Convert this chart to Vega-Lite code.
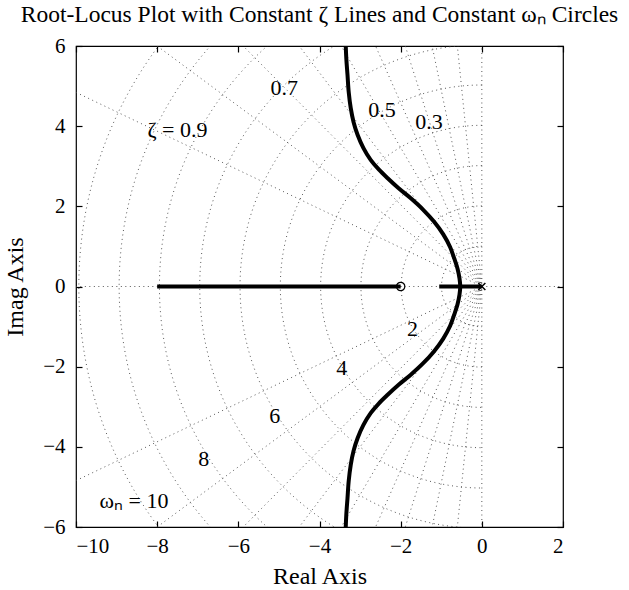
{
  "$schema": "https://vega.github.io/schema/vega-lite/v6.json",
  "width": 487,
  "height": 481,
  "autosize": {"type": "none"},
  "padding": {"left": 76, "top": 46, "right": 66, "bottom": 63},
  "background": "white",
  "config": {
    "view": {"stroke": "black", "strokeWidth": 1.2},
    "font": "Liberation Serif",
    "axis": {
      "domain": false,
      "grid": false,
      "tickColor": "black",
      "tickSize": -6,
      "tickWidth": 1.2,
      "labelFont": "Liberation Serif",
      "labelFontSize": 21,
      "labelColor": "black",
      "titleFont": "Liberation Serif",
      "titleFontSize": 24,
      "titleFontWeight": "normal",
      "titleColor": "black"
    }
  },
  "title": {
    "text": "Root-Locus Plot with Constant ζ Lines and Constant ωₙ Circles",
    "font": "Liberation Serif",
    "fontSize": 23.5,
    "fontWeight": "normal",
    "color": "black",
    "offset": 9
  },
  "datasets": {
    "circles": [
      {"wn": 1}, {"wn": 2}, {"wn": 3}, {"wn": 4}, {"wn": 5},
      {"wn": 6}, {"wn": 7}, {"wn": 8}, {"wn": 9}, {"wn": 10}
    ],
    "rays": [
      {"zeta": 0, "re": 0, "im": 12},
      {"zeta": 0.1, "re": -1.2, "im": 11.94},
      {"zeta": 0.2, "re": -2.4, "im": 11.76},
      {"zeta": 0.3, "re": -3.6, "im": 11.45},
      {"zeta": 0.4, "re": -4.8, "im": 11.0},
      {"zeta": 0.5, "re": -6.0, "im": 10.39},
      {"zeta": 0.6, "re": -7.2, "im": 9.6},
      {"zeta": 0.7, "re": -8.4, "im": 8.57},
      {"zeta": 0.8, "re": -9.6, "im": 7.2},
      {"zeta": 0.9, "re": -10.8, "im": 5.23},
      {"zeta": 1, "re": -12, "im": 0},
      {"zeta": 0, "re": 0, "im": -12},
      {"zeta": 0.1, "re": -1.2, "im": -11.94},
      {"zeta": 0.2, "re": -2.4, "im": -11.76},
      {"zeta": 0.3, "re": -3.6, "im": -11.45},
      {"zeta": 0.4, "re": -4.8, "im": -11.0},
      {"zeta": 0.5, "re": -6.0, "im": -10.39},
      {"zeta": 0.6, "re": -7.2, "im": -9.6},
      {"zeta": 0.7, "re": -8.4, "im": -8.57},
      {"zeta": 0.8, "re": -9.6, "im": -7.2},
      {"zeta": 0.9, "re": -10.8, "im": -5.23},
      {"zeta": -1, "re": 12, "im": 0}
    ],
    "locus": [
      {"branch": "up", "k": 0, "re": -0.53, "im": 0},
      {"branch": "up", "k": 1, "re": -0.55, "im": 0.2},
      {"branch": "up", "k": 2, "re": -0.6, "im": 0.45},
      {"branch": "up", "k": 3, "re": -0.68, "im": 0.7},
      {"branch": "up", "k": 4, "re": -0.78, "im": 0.98},
      {"branch": "up", "k": 5, "re": -0.95, "im": 1.3},
      {"branch": "up", "k": 6, "re": -1.18, "im": 1.62},
      {"branch": "up", "k": 7, "re": -1.45, "im": 1.92},
      {"branch": "up", "k": 8, "re": -1.75, "im": 2.2},
      {"branch": "up", "k": 9, "re": -2.05, "im": 2.45},
      {"branch": "up", "k": 10, "re": -2.32, "im": 2.7},
      {"branch": "up", "k": 11, "re": -2.54, "im": 2.92},
      {"branch": "up", "k": 12, "re": -2.74, "im": 3.16},
      {"branch": "up", "k": 13, "re": -2.92, "im": 3.46},
      {"branch": "up", "k": 14, "re": -3.06, "im": 3.78},
      {"branch": "up", "k": 15, "re": -3.16, "im": 4.1},
      {"branch": "up", "k": 16, "re": -3.23, "im": 4.45},
      {"branch": "up", "k": 17, "re": -3.28, "im": 4.85},
      {"branch": "up", "k": 18, "re": -3.31, "im": 5.28},
      {"branch": "up", "k": 19, "re": -3.34, "im": 5.7},
      {"branch": "up", "k": 20, "re": -3.36, "im": 6.2},
      {"branch": "down", "k": 0, "re": -0.53, "im": 0},
      {"branch": "down", "k": 1, "re": -0.55, "im": -0.2},
      {"branch": "down", "k": 2, "re": -0.6, "im": -0.45},
      {"branch": "down", "k": 3, "re": -0.68, "im": -0.7},
      {"branch": "down", "k": 4, "re": -0.78, "im": -0.98},
      {"branch": "down", "k": 5, "re": -0.95, "im": -1.3},
      {"branch": "down", "k": 6, "re": -1.18, "im": -1.62},
      {"branch": "down", "k": 7, "re": -1.45, "im": -1.92},
      {"branch": "down", "k": 8, "re": -1.75, "im": -2.2},
      {"branch": "down", "k": 9, "re": -2.05, "im": -2.45},
      {"branch": "down", "k": 10, "re": -2.32, "im": -2.7},
      {"branch": "down", "k": 11, "re": -2.54, "im": -2.92},
      {"branch": "down", "k": 12, "re": -2.74, "im": -3.16},
      {"branch": "down", "k": 13, "re": -2.92, "im": -3.46},
      {"branch": "down", "k": 14, "re": -3.06, "im": -3.78},
      {"branch": "down", "k": 15, "re": -3.16, "im": -4.1},
      {"branch": "down", "k": 16, "re": -3.23, "im": -4.45},
      {"branch": "down", "k": 17, "re": -3.28, "im": -4.85},
      {"branch": "down", "k": 18, "re": -3.31, "im": -5.28},
      {"branch": "down", "k": 19, "re": -3.34, "im": -5.7},
      {"branch": "down", "k": 20, "re": -3.36, "im": -6.2},
      {"branch": "real1", "k": 0, "re": -8, "im": 0},
      {"branch": "real1", "k": 1, "re": -2, "im": 0},
      {"branch": "real2", "k": 0, "re": -1.05, "im": 0},
      {"branch": "real2", "k": 1, "re": 0, "im": 0}
    ],
    "zeros": [{"re": -2, "im": 0}],
    "poles": [{"re": 0, "im": 0}],
    "labels": [
      {"re": -7.5, "im": 3.9, "txt": "ζ = 0.9"},
      {"re": -4.87, "im": 4.95, "txt": "0.7"},
      {"re": -2.46, "im": 4.41, "txt": "0.5"},
      {"re": -1.3, "im": 4.11, "txt": "0.3"},
      {"re": -1.71, "im": -1.07, "txt": "2"},
      {"re": -3.45, "im": -2.04, "txt": "4"},
      {"re": -5.1, "im": -3.22, "txt": "6"},
      {"re": -6.85, "im": -4.31, "txt": "8"},
      {"re": -8.57, "im": -5.36, "txt": "ωₙ = 10"}
    ]
  },
  "layer": [
    {
      "data": {"name": "circles"},
      "mark": {"type": "point", "shape": "M0,-1A1,1,0,0,0,0,1", "filled": false, "stroke": "#444", "strokeWidth": 0.9, "strokeDash": [1, 3.5], "opacity": 1, "clip": true},
      "encoding": {
        "x": {"datum": 0, "type": "quantitative", "scale": {"domain": [-10, 2], "nice": false, "zero": false}, "axis": null},
        "y": {"datum": 0, "type": "quantitative", "scale": {"domain": [-6, 6], "nice": false, "zero": false}, "axis": null},
        "size": {"field": "wn", "type": "quantitative", "scale": {"type": "pow", "exponent": 2, "domain": [0, 10], "range": [0, 649636]}, "legend": null}
      }
    },
    {
      "data": {"name": "rays"},
      "mark": {"type": "rule", "stroke": "#444", "strokeWidth": 0.9, "strokeDash": [1, 3.5], "clip": true},
      "encoding": {
        "x": {"field": "re", "type": "quantitative", "scale": {"domain": [-10, 2], "nice": false, "zero": false}, "axis": {"orient": "top", "labels": false, "title": null, "values": [-10, -8, -6, -4, -2, 0, 2]}},
        "y": {"field": "im", "type": "quantitative", "scale": {"domain": [-6, 6], "nice": false, "zero": false}, "axis": {"orient": "right", "labels": false, "title": null, "values": [-6, -4, -2, 0, 2, 4, 6]}},
        "x2": {"datum": 0},
        "y2": {"datum": 0}
      }
    },
    {
      "data": {"name": "locus"},
      "mark": {"type": "line", "stroke": "black", "strokeWidth": 4, "clip": true, "strokeCap": "butt", "interpolate": "catmull-rom"},
      "encoding": {
        "x": {"field": "re", "type": "quantitative", "scale": {"domain": [-10, 2], "nice": false, "zero": false}, "axis": {"orient": "bottom", "title": "Real Axis", "values": [-10, -8, -6, -4, -2, 0, 2], "labelPadding": 14, "titlePadding": 8}},
        "y": {"field": "im", "type": "quantitative", "scale": {"domain": [-6, 6], "nice": false, "zero": false}, "axis": {"orient": "left", "title": "Imag Axis", "values": [-6, -4, -2, 0, 2, 4, 6], "labelPadding": 17, "titlePadding": 15}},
        "detail": {"field": "branch"},
        "order": {"field": "k", "type": "quantitative"}
      }
    },
    {
      "data": {"name": "zeros"},
      "mark": {"type": "point", "shape": "circle", "filled": false, "stroke": "black", "strokeWidth": 1.2, "size": 70, "opacity": 1},
      "encoding": {
        "x": {"field": "re", "type": "quantitative", "scale": {"domain": [-10, 2], "nice": false, "zero": false}, "axis": null},
        "y": {"field": "im", "type": "quantitative", "scale": {"domain": [-6, 6], "nice": false, "zero": false}, "axis": null}
      }
    },
    {
      "data": {"name": "poles"},
      "mark": {"type": "point", "shape": "M-1,-1L1,1M-1,1L1,-1", "filled": false, "stroke": "black", "strokeWidth": 1.5, "size": 50, "opacity": 1},
      "encoding": {
        "x": {"field": "re", "type": "quantitative", "scale": {"domain": [-10, 2], "nice": false, "zero": false}, "axis": null},
        "y": {"field": "im", "type": "quantitative", "scale": {"domain": [-6, 6], "nice": false, "zero": false}, "axis": null}
      }
    },
    {
      "data": {"name": "labels"},
      "mark": {"type": "text", "font": "Liberation Serif", "fontSize": 22, "color": "black", "align": "center", "baseline": "middle"},
      "encoding": {
        "x": {"field": "re", "type": "quantitative", "scale": {"domain": [-10, 2], "nice": false, "zero": false}, "axis": null},
        "y": {"field": "im", "type": "quantitative", "scale": {"domain": [-6, 6], "nice": false, "zero": false}, "axis": null},
        "text": {"field": "txt"}
      }
    }
  ],
  "resolve": {"axis": {"x": "independent", "y": "independent"}}
}
